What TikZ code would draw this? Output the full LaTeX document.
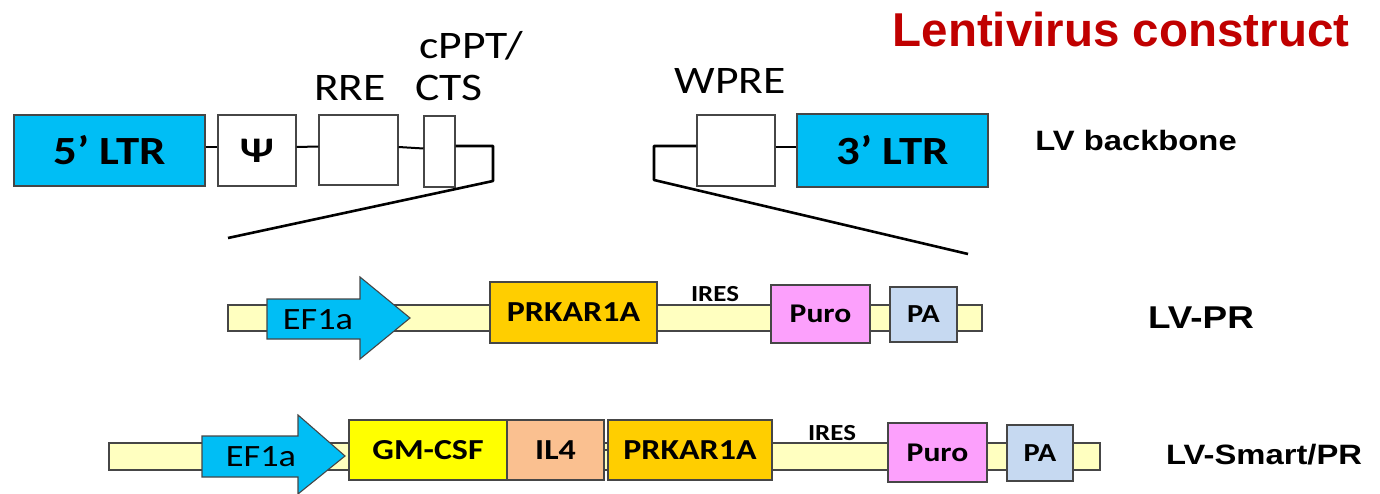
\documentclass[tikz,border=0pt]{standalone}
\usepackage{fontspec}
\usepackage{graphicx}
\setmainfont{Carlito}
\newfontfamily\arialf{Liberation Sans}
\newcommand\sx[1]{\scalebox{1.17}[1]{#1}}
\definecolor{ltrblue}{RGB}{0,190,245}
\definecolor{barylw}{RGB}{255,255,192}
\definecolor{goldc}{RGB}{255,206,0}
\definecolor{ylwc}{RGB}{255,255,0}
\definecolor{peachc}{RGB}{250,192,144}
\definecolor{pinkc}{RGB}{252,160,252}
\definecolor{pablue}{RGB}{198,217,241}
\definecolor{titlered}{RGB}{192,0,0}
\definecolor{edgec}{RGB}{70,70,70}
\tikzset{
  x=1pt, y=-1pt,
  elbox/.style={draw=edgec, line width=1.1pt, inner sep=0pt, anchor=center},
  lbl/.style={inner sep=0pt, anchor=center, font=\fontsize{39}{41}\selectfont},
  rowlbl/.style={inner sep=0pt, anchor=center, font=\arialf\bfseries\fontsize{28}{30}\selectfont},
  bline/.style={line width=2pt, black},
  brk/.style={line width=2.6pt, black, line join=round},
  barst/.style={draw=edgec, line width=1.1pt, fill=barylw},
  arrst/.style={draw=edgec, line width=1.1pt, fill=ltrblue, line join=miter},
}
\begin{document}
\begin{tikzpicture}
\useasboundingbox (0,0) rectangle (1380,494);

% title
\node[inner sep=0pt, text=titlered, font=\arialf\bfseries\fontsize{47.5}{50}\selectfont] (title) at (1121,30) {Lentivirus construct};

% ---- backbone ----
\node[elbox, fill=ltrblue, minimum width=191pt, minimum height=71pt, font=\bfseries\fontsize{40}{42}\selectfont] (ltr5) at (109.5,150.5) {\sx{5’ LTR}};
\node[elbox, fill=white, minimum width=78pt, minimum height=71pt, font=\bfseries\fontsize{36}{38}\selectfont] (psi) at (257,150.5) {\sx{Ψ}};
\node[elbox, fill=white, minimum width=79pt, minimum height=70pt] (rre) at (358.5,150) {};
\node[elbox, fill=white, minimum width=31pt, minimum height=71pt] (cppt) at (439.5,151.5) {};
\node[elbox, fill=white, minimum width=78pt, minimum height=71pt] (wpre) at (736,150.5) {};
\node[elbox, fill=ltrblue, minimum width=191pt, minimum height=73pt, font=\bfseries\fontsize{40}{42}\selectfont] (ltr3) at (892.5,150.5) {\sx{3’ LTR}};

\node[lbl] (rrel) at (350,88) {\sx{RRE}};
\node[lbl] (cpptl) at (471,46) {\sx{cPPT/}};
\node[lbl] (ctsl) at (449,88) {\sx{CTS}};
\node[lbl] (wprel) at (730,81) {\sx{WPRE}};

\draw[bline] ([yshift=3.5pt]ltr5.east) -- ([yshift=3.5pt]psi.west);
\draw[bline] ([yshift=3.5pt]psi.east) -- ([yshift=3.5pt]rre.west);
\draw[bline] ([yshift=3pt]rre.east) -- ([yshift=3pt]cppt.west);
\draw[bline] ([yshift=3.5pt]wpre.east) -- ([yshift=3.5pt]ltr3.west);

\coordinate (bl1) at (493,146);
\coordinate (bl2) at (493,181);
\coordinate (bl3) at (228,238);
\coordinate (br1) at (654,146);
\coordinate (br2) at (654,180);
\coordinate (br3) at (968,254);
\draw[brk] ([yshift=5.5pt]cppt.east) -- (bl1) -- (bl2) -- (bl3);
\draw[brk] ([yshift=4.5pt]wpre.west) -- (br1) -- (br2) -- (br3);

\node[rowlbl] (lvbb) at (1136,140) {\sx{LV backbone}};

% ---- LV-PR ----
\draw[barst] (228,305) rectangle (982,331);
\draw[arrst] (267,299) -- (360,299) -- (360,277) -- (410,318) -- (360,359) -- (360,339) -- (267,339) -- cycle;
\node[lbl, font=\fontsize{31}{33}\selectfont] (ef1) at (318,320) {\sx{EF1a}};
\node[elbox, fill=goldc, minimum width=167pt, minimum height=61pt, font=\bfseries\fontsize{29}{31}\selectfont] (prk1) at (573.5,312.5) {\sx{PRKAR1A}};
\node[lbl, font=\bfseries\fontsize{23}{25}\selectfont] (ires1) at (715,294) {\sx{IRES}};
\node[elbox, fill=pinkc, minimum width=99pt, minimum height=58pt, font=\bfseries\fontsize{27}{29}\selectfont] (puro1) at (820.5,314) {\sx{Puro}};
\node[elbox, fill=pablue, minimum width=67pt, minimum height=55pt, font=\bfseries\fontsize{26}{28}\selectfont] (pa1) at (923.5,314.5) {\sx{PA}};
\node[rowlbl, font=\arialf\bfseries\fontsize{31.5}{33}\selectfont] (lvpr) at (1201,318) {\sx{LV-PR}};

% ---- LV-Smart/PR ----
\draw[barst] (109,443) rectangle (1100,470);
\draw[arrst] (202,436) -- (298,436) -- (298,415) -- (345,456) -- (298,494) -- (298,477) -- (202,477) -- cycle;
\node[lbl, font=\fontsize{31}{33}\selectfont] (ef2) at (261,457) {\sx{EF1a}};
\node[elbox, fill=ylwc, minimum width=158pt, minimum height=60pt, font=\bfseries\fontsize{29}{31}\selectfont] (gm) at (428,450) {\sx{GM-CSF}};
\node[elbox, fill=peachc, minimum width=97pt, minimum height=60pt, font=\bfseries\fontsize{29}{31}\selectfont] (il4) at (555.5,450) {\sx{IL4}};
\node[elbox, fill=goldc, minimum width=164pt, minimum height=60pt, font=\bfseries\fontsize{29}{31}\selectfont] (prk2) at (690,450) {\sx{PRKAR1A}};
\draw[line width=1.1pt, edgec] (il4.east) -- (prk2.west);
\node[lbl, font=\bfseries\fontsize{23}{25}\selectfont] (ires2) at (832,433) {\sx{IRES}};
\node[elbox, fill=pinkc, minimum width=99pt, minimum height=59pt, font=\bfseries\fontsize{27}{29}\selectfont] (puro2) at (937.5,452.5) {\sx{Puro}};
\node[elbox, fill=pablue, minimum width=66pt, minimum height=56pt, font=\bfseries\fontsize{26}{28}\selectfont] (pa2) at (1040,453) {\sx{PA}};
\node[rowlbl] (lvspr) at (1264,455) {\sx{LV-Smart/PR}};
\end{tikzpicture}
\end{document}
